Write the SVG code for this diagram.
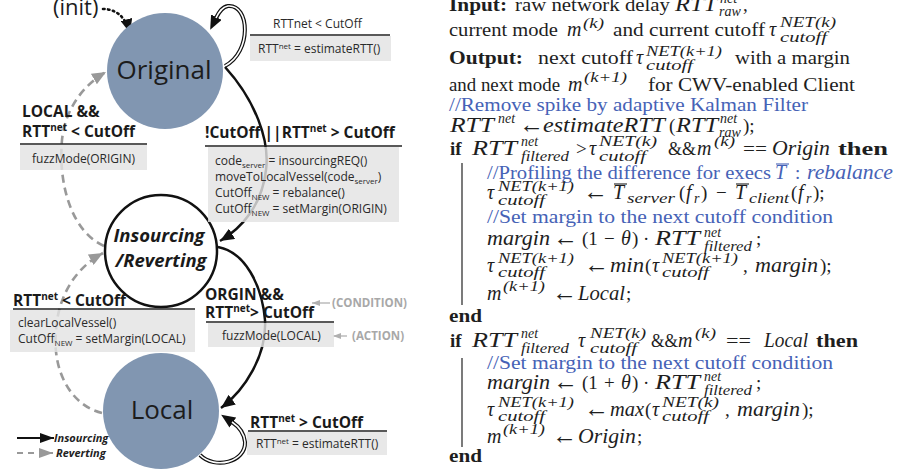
<svg xmlns="http://www.w3.org/2000/svg" width="898" height="471" viewBox="0 0 898 471">
<defs>
<style>
.nf{fill:#8196b1}
.nt{font-family:"Open Sans","Liberation Sans",sans-serif;font-size:26px;fill:#1c1c1c}
.ins{font-family:"Open Sans","Liberation Sans",sans-serif;font-size:18.5px;font-weight:bold;font-style:italic;fill:#1a1a1a}
.lbl{font-family:"Open Sans","Liberation Sans",sans-serif;font-size:15.5px;font-weight:bold;fill:#1a1a1a}
.lbl .sp{font-size:10px}
.box{fill:#e3e3e3;fill-opacity:0.82}
.bt{font-family:"Open Sans","Liberation Sans",sans-serif;font-size:12px;fill:#2a2a2a}
.bt .sb{font-size:8px}
.rule{stroke:#222;stroke-width:1.5}
.ann{font-family:"Open Sans","Liberation Sans",sans-serif;font-size:11.5px;font-weight:bold;fill:#a8a8a8}
.leg{font-family:"Open Sans","Liberation Sans",sans-serif;font-size:11px;font-weight:bold;font-style:italic;fill:#222}
.solid{fill:none;stroke:#111;stroke-width:2.5}
.dash{fill:none;stroke:#999;stroke-width:2.6;stroke-dasharray:8 5}
.dbl{fill:none;stroke:#111;stroke-width:4}
.dblw{fill:none;stroke:#fff;stroke-width:1.6}
.a{font-family:"Liberation Serif","Times New Roman",serif;font-size:19px;fill:#1e1e1e}
.i{font-style:italic;font-size:20px}
.b{font-weight:bold}
.s{font-size:14px}
.c{fill:#4662b6}
.ar{font-size:25px}
.bar{stroke:#333;stroke-width:1.3}
</style>
<marker id="ah" viewBox="0 0 14 12" refX="14" refY="6" markerWidth="14" markerHeight="12" markerUnits="userSpaceOnUse" orient="auto"><path d="M0,0 L14,6 L0,12 z" fill="#111"/></marker>
<marker id="ahb" viewBox="0 0 14 12" refX="1" refY="6" markerWidth="14" markerHeight="12" markerUnits="userSpaceOnUse" orient="auto"><path d="M0,0 L14,6 L0,12 z" fill="#111"/></marker>
<marker id="ahg" viewBox="0 0 14 12" refX="14" refY="6" markerWidth="14" markerHeight="12" markerUnits="userSpaceOnUse" orient="auto"><path d="M0,0 L14,6 L0,12 z" fill="#999"/></marker>
<marker id="ahl" viewBox="0 0 14 10" refX="14" refY="5" markerWidth="14" markerHeight="10" markerUnits="userSpaceOnUse" orient="auto"><path d="M0,0 L14,5 L0,10 z" fill="#111"/></marker>
<marker id="ahlg" viewBox="0 0 14 10" refX="14" refY="5" markerWidth="14" markerHeight="10" markerUnits="userSpaceOnUse" orient="auto"><path d="M0,0 L14,5 L0,10 z" fill="#999"/></marker>
<marker id="aha" viewBox="0 0 8 6" refX="8" refY="3" markerWidth="8" markerHeight="6" markerUnits="userSpaceOnUse" orient="auto"><path d="M0,0 L8,3 L0,6 z" fill="#b0b0b0"/></marker>
</defs>

<g id="connectors">
  <path d="M103,9 C117,9 126,18 130,33" fill="none" stroke="#111" stroke-width="2.6" stroke-dasharray="1.5 3.5" stroke-linecap="round" marker-end="url(#ah)"/>
  <path class="dbl" d="M225,66 C252,52 250,4 228,6 C222,7 219,12 216,18" marker-end="url(#ahb)"/>
  <path class="dblw" d="M225,66 C252,52 250,4 228,6 C222,7 219,12 216,18"/>
  <path class="solid" d="M225,67 C255,100 270,140 266,170 C262,205 242,228 220,241" marker-end="url(#ah)"/>
  <path class="solid" d="M218,247 C245,252 262,285 265,320 C267,355 245,390 221,408" marker-end="url(#ah)"/>
  <path class="dbl" d="M200,455 C215,470 246,462 245,442 C244,432 238,426 232,422" marker-end="url(#ahb)"/>
  <path class="dblw" d="M200,455 C215,470 246,462 245,442 C244,432 238,426 232,422"/>
  <path class="dash" d="M104,246 C72,232 58,185 62,140 C65,110 82,86 106,72" marker-end="url(#ahg)"/>
  <path class="dash" d="M102,413 C70,405 52,370 56,330 C58,300 72,270 103,253" marker-end="url(#ahg)"/>
  <path d="M330,303 L312,303" stroke="#b0b0b0" stroke-width="1.3" marker-end="url(#aha)"/>
  <path d="M347,336 L333,336" stroke="#b0b0b0" stroke-width="1.3" marker-end="url(#aha)"/>
</g>

<g id="node-original">
  <circle class="nf" cx="165" cy="71" r="58"/>
  <text class="nt" x="164" y="79" text-anchor="middle">Original</text>
</g>
<g id="node-insourcing">
  <circle cx="161" cy="251" r="56" fill="#fff" stroke="#111" stroke-width="2.5"/>
  <text class="ins" x="159" y="242" text-anchor="middle">Insourcing</text>
  <text class="ins" x="161" y="267" text-anchor="middle">/Reverting</text>
</g>
<g id="node-local">
  <circle class="nf" cx="161" cy="411" r="58"/>
  <text class="nt" x="162" y="419" text-anchor="middle" font-size="27">Local</text>
</g>
<g id="init">
  <text x="53" y="15" font-family="Open Sans, Liberation Sans, sans-serif" font-size="22" fill="#1c1c1c">(init)</text>
</g>

<g id="label-original-loop">
  <text class="bt" x="273" y="28">RTTnet  &lt; CutOff</text>
  <line class="rule" x1="250" y1="35" x2="390" y2="35"/>
  <rect class="box" x="250" y="36" width="141" height="25"/>
  <text class="bt" x="258" y="53">RTT<tspan class="sb" dy="-4">net</tspan><tspan dy="4"> = estimateRTT()</tspan></text>
</g>
<g id="label-revert-original">
  <text class="lbl" x="22" y="117">LOCAL &amp;&amp;</text>
  <text class="lbl" x="22" y="137">RTT<tspan class="sp" dy="-6">net</tspan><tspan dy="6">  &lt; CutOff</tspan></text>
  <line class="rule" x1="20" y1="144" x2="147" y2="144"/>
  <rect class="box" x="20" y="145" width="127" height="25"/>
  <text class="bt" x="32" y="163">fuzzMode(ORIGIN)</text>
</g>
<g id="label-insource">
  <text class="lbl" x="205" y="138">!CutOff ||RTT<tspan class="sp" dy="-6">net</tspan><tspan dy="6"> &gt; CutOff</tspan></text>
  <line class="rule" x1="205" y1="146" x2="402" y2="146"/>
  <rect class="box" x="208" y="147" width="191" height="75"/>
  <text class="bt" x="215" y="165">code<tspan class="sb" dy="3">server</tspan><tspan dy="-3"> = insourcingREQ()</tspan></text>
  <text class="bt" x="215" y="181">moveToLocalVessel(code<tspan class="sb" dy="3">server</tspan><tspan dy="-3">)</tspan></text>
  <text class="bt" x="215" y="197">CutOff<tspan class="sb" dy="3">NEW</tspan><tspan dy="-3"> = rebalance()</tspan></text>
  <text class="bt" x="215" y="213">CutOff<tspan class="sb" dy="3">NEW</tspan><tspan dy="-3"> = setMargin(ORIGIN)</tspan></text>
</g>
<g id="label-revert-local">
  <text class="lbl" x="13" y="306">RTT<tspan class="sp" dy="-6">net</tspan><tspan dy="6"> &lt; CutOff</tspan></text>
  <line class="rule" x1="13" y1="309" x2="195" y2="309"/>
  <rect class="box" x="10" y="310" width="185" height="42"/>
  <text class="bt" x="18" y="327">clearLocalVessel()</text>
  <text class="bt" x="18" y="343">CutOff<tspan class="sb" dy="3">NEW</tspan><tspan dy="-3"> = setMargin(LOCAL)</tspan></text>
</g>
<g id="label-to-local">
  <text class="lbl" x="205" y="300">ORGIN  &amp;&amp;</text>
  <text class="lbl" x="205" y="318">RTT<tspan class="sp" dy="-6">net</tspan><tspan dy="6">&gt; CutOff</tspan></text>
  <line class="rule" x1="206" y1="322" x2="334" y2="322"/>
  <rect class="box" x="208" y="323" width="126" height="24"/>
  <text class="bt" x="222" y="340">fuzzMode(LOCAL)</text>
  <text class="ann" x="332" y="307">(CONDITION)</text>
  <text class="ann" x="352" y="340">(ACTION)</text>
</g>
<g id="label-local-loop">
  <text class="lbl" x="250" y="428">RTT<tspan class="sp" dy="-6">net</tspan><tspan dy="6">  &gt; CutOff</tspan></text>
  <line class="rule" x1="248" y1="431" x2="387" y2="431"/>
  <rect class="box" x="247" y="432" width="140" height="23"/>
  <text class="bt" x="256" y="448">RTT<tspan class="sb" dy="-4">net</tspan><tspan dy="4"> = estimateRTT()</tspan></text>
</g>
<g id="legend">
  <path d="M17,438 L54,438" stroke="#111" stroke-width="1.8" marker-end="url(#ahl)"/>
  <text class="leg" x="54" y="442">Insourcing</text>
  <path d="M17,453 L53,453" stroke="#999" stroke-width="1.8" stroke-dasharray="6 5" marker-end="url(#ahlg)"/>
  <text class="leg" x="56" y="457">Reverting</text>
</g>

<g id="algorithm">
  <line class="bar" x1="462" y1="163" x2="462" y2="305"/>
  <line class="bar" x1="462" y1="358" x2="462" y2="447"/>
  <!-- line 1 -->
  <text class="a b" x="449" y="11" textLength="58" lengthAdjust="spacingAndGlyphs">Input:</text>
  <text class="a" x="515" y="11" textLength="155" lengthAdjust="spacingAndGlyphs">raw network delay</text>
  <text class="a i" x="675" y="11" textLength="42" lengthAdjust="spacingAndGlyphs">RTT</text>
  <text class="a i s" x="720" y="3">net</text>
  <text class="a i s" x="719" y="16">raw</text>
  <text class="a" x="743" y="11">,</text>
  <!-- line 2 -->
  <text class="a" x="449" y="36" textLength="109" lengthAdjust="spacingAndGlyphs">current mode</text>
  <text class="a i" x="567" y="36">m</text>
  <text class="a i s" x="583" y="28" textLength="21" lengthAdjust="spacingAndGlyphs">(k)</text>
  <text class="a" x="613" y="36" textLength="152" lengthAdjust="spacingAndGlyphs">and current cutoff</text>
  <text class="a i" x="769" y="36">τ</text>
  <text class="a i s" x="780" y="27" textLength="56" lengthAdjust="spacingAndGlyphs">NET(k)</text>
  <text class="a i s" x="780" y="42" textLength="47" lengthAdjust="spacingAndGlyphs">cutoff</text>
  <!-- line 3 -->
  <text class="a b" x="449" y="64" textLength="74" lengthAdjust="spacingAndGlyphs">Output:</text>
  <text class="a" x="538" y="64" textLength="95" lengthAdjust="spacingAndGlyphs">next cutoff</text>
  <text class="a i" x="636" y="64">τ</text>
  <text class="a i s" x="646" y="56" textLength="76" lengthAdjust="spacingAndGlyphs">NET(k+1)</text>
  <text class="a i s" x="646" y="70" textLength="47" lengthAdjust="spacingAndGlyphs">cutoff</text>
  <text class="a" x="735" y="64" textLength="115" lengthAdjust="spacingAndGlyphs">with a margin</text>
  <!-- line 4 -->
  <text class="a" x="449" y="91" textLength="111" lengthAdjust="spacingAndGlyphs">and next mode</text>
  <text class="a i" x="568" y="91">m</text>
  <text class="a i s" x="584" y="82" textLength="43" lengthAdjust="spacingAndGlyphs">(k+1)</text>
  <text class="a" x="648" y="91" textLength="207" lengthAdjust="spacingAndGlyphs">for CWV-enabled Client</text>
  <!-- line 5 -->
  <text class="a c" x="449" y="111" textLength="359" lengthAdjust="spacingAndGlyphs">//Remove spike by adaptive Kalman Filter</text>
  <!-- line 6 -->
  <text class="a i" x="450" y="132" textLength="44" lengthAdjust="spacingAndGlyphs">RTT</text>
  <text class="a i s" x="498" y="123" textLength="17" lengthAdjust="spacingAndGlyphs">net</text>
  <text class="a ar" x="519" y="133">←</text>
  <text class="a i" x="543" y="132" textLength="122" lengthAdjust="spacingAndGlyphs">estimateRTT</text>
  <text class="a" x="669" y="132">(</text>
  <text class="a i" x="676" y="132" textLength="42" lengthAdjust="spacingAndGlyphs">RTT</text>
  <text class="a i s" x="720" y="123">net</text>
  <text class="a i s" x="719" y="137">raw</text>
  <text class="a" x="743" y="132">);</text>
  <!-- line 7 -->
  <text class="a b" x="450" y="155">if</text>
  <text class="a i" x="472" y="155" textLength="45" lengthAdjust="spacingAndGlyphs">RTT</text>
  <text class="a i s" x="521" y="146" textLength="17" lengthAdjust="spacingAndGlyphs">net</text>
  <text class="a i s" x="521" y="161" textLength="48" lengthAdjust="spacingAndGlyphs">filtered</text>
  <text class="a" x="576" y="155">&gt;</text>
  <text class="a i" x="589" y="155">τ</text>
  <text class="a i s" x="599" y="146" textLength="58" lengthAdjust="spacingAndGlyphs">NET(k)</text>
  <text class="a i s" x="599" y="161" textLength="47" lengthAdjust="spacingAndGlyphs">cutoff</text>
  <text class="a" x="668" y="155" textLength="28" lengthAdjust="spacingAndGlyphs">&amp;&amp;</text>
  <text class="a i" x="697" y="155">m</text>
  <text class="a i s" x="714" y="146" textLength="21" lengthAdjust="spacingAndGlyphs">(k)</text>
  <text class="a" x="743" y="155" textLength="24" lengthAdjust="spacingAndGlyphs">==</text>
  <text class="a i" x="772" y="155" textLength="58" lengthAdjust="spacingAndGlyphs">Origin</text>
  <text class="a b" x="838" y="155" textLength="50" lengthAdjust="spacingAndGlyphs">then</text>
  <!-- line 8 -->
  <text class="a c" x="487" y="179" textLength="284" lengthAdjust="spacingAndGlyphs">//Profiling the difference for execs</text>
  <text class="a c i" x="775" y="179">T</text>
  <line x1="776" y1="164" x2="789" y2="164" stroke="#4662b6" stroke-width="1.1"/>
  <text class="a c" x="795" y="179">:</text>
  <text class="a c i" x="807" y="179" textLength="86" lengthAdjust="spacingAndGlyphs">rebalance</text>
  <!-- line 9 -->
  <text class="a i" x="487" y="199">τ</text>
  <text class="a i s" x="498" y="191" textLength="76" lengthAdjust="spacingAndGlyphs">NET(k+1)</text>
  <text class="a i s" x="498" y="205" textLength="47" lengthAdjust="spacingAndGlyphs">cutoff</text>
  <text class="a ar" x="583" y="200">←</text>
  <text class="a i" x="613" y="199">T</text>
  <line x1="614" y1="184" x2="627" y2="184" stroke="#1e1e1e" stroke-width="1.1"/>
  <text class="a i s" x="627" y="203" textLength="48" lengthAdjust="spacingAndGlyphs">server</text>
  <text class="a" x="679" y="199">(</text>
  <text class="a i" x="686" y="199">f</text>
  <text class="a i s" x="694" y="203">r</text>
  <text class="a" x="701" y="199">)</text>
  <text class="a" x="716" y="199">−</text>
  <text class="a i" x="735" y="199">T</text>
  <line x1="736" y1="184" x2="749" y2="184" stroke="#1e1e1e" stroke-width="1.1"/>
  <text class="a i s" x="749" y="203" textLength="40" lengthAdjust="spacingAndGlyphs">client</text>
  <text class="a" x="791" y="199">(</text>
  <text class="a i" x="798" y="199">f</text>
  <text class="a i s" x="806" y="203">r</text>
  <text class="a" x="813" y="199">);</text>
  <!-- line 10 -->
  <text class="a c" x="487" y="223" textLength="346" lengthAdjust="spacingAndGlyphs">//Set margin to the next cutoff condition</text>
  <!-- line 11 -->
  <text class="a i" x="487" y="245" textLength="63" lengthAdjust="spacingAndGlyphs">margin</text>
  <text class="a ar" x="553" y="246">←</text>
  <text class="a" x="582" y="245">(1</text>
  <text class="a" x="604" y="245">−</text>
  <text class="a i" x="621" y="245">θ</text>
  <text class="a" x="632" y="245">)</text>
  <text class="a" x="643" y="245">·</text>
  <text class="a i" x="655" y="245" textLength="45" lengthAdjust="spacingAndGlyphs">RTT</text>
  <text class="a i s" x="704" y="237" textLength="17" lengthAdjust="spacingAndGlyphs">net</text>
  <text class="a i s" x="704" y="251" textLength="48" lengthAdjust="spacingAndGlyphs">filtered</text>
  <text class="a" x="756" y="245">;</text>
  <!-- line 12 -->
  <text class="a i" x="487" y="272">τ</text>
  <text class="a i s" x="498" y="263" textLength="76" lengthAdjust="spacingAndGlyphs">NET(k+1)</text>
  <text class="a i s" x="498" y="277" textLength="47" lengthAdjust="spacingAndGlyphs">cutoff</text>
  <text class="a ar" x="584" y="273">←</text>
  <text class="a i" x="610" y="272" textLength="34" lengthAdjust="spacingAndGlyphs">min</text>
  <text class="a" x="645" y="272">(</text>
  <text class="a i" x="652" y="272">τ</text>
  <text class="a i s" x="662" y="263" textLength="76" lengthAdjust="spacingAndGlyphs">NET(k+1)</text>
  <text class="a i s" x="662" y="277" textLength="47" lengthAdjust="spacingAndGlyphs">cutoff</text>
  <text class="a" x="743" y="272">,</text>
  <text class="a i" x="755" y="272" textLength="63" lengthAdjust="spacingAndGlyphs">margin</text>
  <text class="a" x="820" y="272">);</text>
  <!-- line 13 -->
  <text class="a i" x="487" y="300">m</text>
  <text class="a i s" x="503" y="291" textLength="42" lengthAdjust="spacingAndGlyphs">(k+1)</text>
  <text class="a ar" x="552" y="301">←</text>
  <text class="a i" x="578" y="300" textLength="47" lengthAdjust="spacingAndGlyphs">Local</text>
  <text class="a" x="626" y="300">;</text>
  <!-- line 14 -->
  <text class="a b" x="449" y="322" textLength="33" lengthAdjust="spacingAndGlyphs">end</text>
  <!-- line 15 -->
  <text class="a b" x="450" y="347">if</text>
  <text class="a i" x="472" y="347" textLength="45" lengthAdjust="spacingAndGlyphs">RTT</text>
  <text class="a i s" x="521" y="338" textLength="17" lengthAdjust="spacingAndGlyphs">net</text>
  <text class="a i s" x="521" y="353" textLength="48" lengthAdjust="spacingAndGlyphs">filtered</text>
  <text class="a i" x="578" y="347">τ</text>
  <text class="a i s" x="590" y="338" textLength="56" lengthAdjust="spacingAndGlyphs">NET(k)</text>
  <text class="a i s" x="590" y="353" textLength="47" lengthAdjust="spacingAndGlyphs">cutoff</text>
  <text class="a" x="651" y="347" textLength="27" lengthAdjust="spacingAndGlyphs">&amp;&amp;</text>
  <text class="a i" x="678" y="347">m</text>
  <text class="a i s" x="695" y="338" textLength="21" lengthAdjust="spacingAndGlyphs">(k)</text>
  <text class="a" x="726" y="347" textLength="25" lengthAdjust="spacingAndGlyphs">==</text>
  <text class="a i" x="764" y="347" textLength="44" lengthAdjust="spacingAndGlyphs">Local</text>
  <text class="a b" x="816" y="347" textLength="42" lengthAdjust="spacingAndGlyphs">then</text>
  <!-- line 16 -->
  <text class="a c" x="487" y="369" textLength="346" lengthAdjust="spacingAndGlyphs">//Set margin to the next cutoff condition</text>
  <!-- line 17 -->
  <text class="a i" x="487" y="389" textLength="63" lengthAdjust="spacingAndGlyphs">margin</text>
  <text class="a ar" x="553" y="390">←</text>
  <text class="a" x="582" y="389">(1</text>
  <text class="a" x="604" y="389">+</text>
  <text class="a i" x="621" y="389">θ</text>
  <text class="a" x="632" y="389">)</text>
  <text class="a" x="643" y="389">·</text>
  <text class="a i" x="655" y="389" textLength="45" lengthAdjust="spacingAndGlyphs">RTT</text>
  <text class="a i s" x="704" y="381" textLength="17" lengthAdjust="spacingAndGlyphs">net</text>
  <text class="a i s" x="704" y="395" textLength="48" lengthAdjust="spacingAndGlyphs">filtered</text>
  <text class="a" x="756" y="389">;</text>
  <!-- line 18 -->
  <text class="a i" x="487" y="416">τ</text>
  <text class="a i s" x="498" y="407" textLength="76" lengthAdjust="spacingAndGlyphs">NET(k+1)</text>
  <text class="a i s" x="498" y="421" textLength="47" lengthAdjust="spacingAndGlyphs">cutoff</text>
  <text class="a ar" x="584" y="417">←</text>
  <text class="a i" x="610" y="416" textLength="34" lengthAdjust="spacingAndGlyphs">max</text>
  <text class="a" x="645" y="416">(</text>
  <text class="a i" x="652" y="416">τ</text>
  <text class="a i s" x="662" y="407" textLength="57" lengthAdjust="spacingAndGlyphs">NET(k)</text>
  <text class="a i s" x="662" y="421" textLength="47" lengthAdjust="spacingAndGlyphs">cutoff</text>
  <text class="a" x="725" y="416">,</text>
  <text class="a i" x="737" y="416" textLength="63" lengthAdjust="spacingAndGlyphs">margin</text>
  <text class="a" x="802" y="416">);</text>
  <!-- line 19 -->
  <text class="a i" x="487" y="443">m</text>
  <text class="a i s" x="503" y="434" textLength="42" lengthAdjust="spacingAndGlyphs">(k+1)</text>
  <text class="a ar" x="552" y="444">←</text>
  <text class="a i" x="578" y="443" textLength="58" lengthAdjust="spacingAndGlyphs">Origin</text>
  <text class="a" x="637" y="443">;</text>
  <!-- line 20 -->
  <text class="a b" x="449" y="462" textLength="33" lengthAdjust="spacingAndGlyphs">end</text>
</g>
</svg>
